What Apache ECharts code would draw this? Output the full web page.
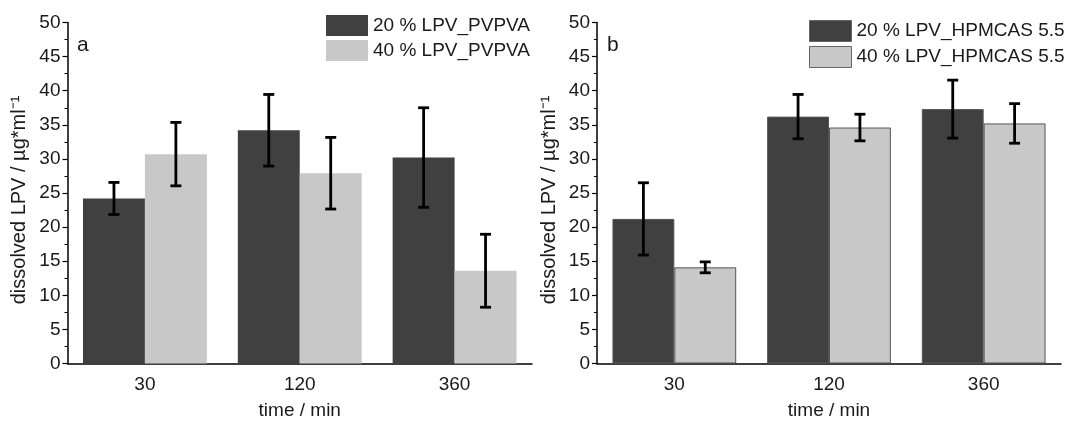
<!DOCTYPE html>
<html>
<head>
<meta charset="utf-8">
<script src="https://cdn.jsdelivr.net/npm/echarts@6/dist/echarts.min.js"></script>
<style>
  html, body { margin: 0; padding: 0; background: #fff; }
  #chart { width: 1069px; height: 423px; }
</style>
</head>
<body>
<div id="chart"></div>
<script>
// data (mean and +/- error)
const categories = ['30', '120', '360'];
const yTicks = [0, 50, 5];

const namesA = ['20 % LPV_PVPVA', '40 % LPV_PVPVA'];
const a20 = [24.2, 34.2, 30.2];
const a20Err = [2.35, 5.25, 7.3];
const a40 = [30.7, 27.9, 13.6];
const a40Err = [4.65, 5.25, 5.35];

const namesB = ['20 % LPV_HPMCAS 5.5', '40 % LPV_HPMCAS 5.5'];
const b20 = [21.2, 36.2, 37.3];
const b20Err = [5.3, 3.25, 4.25];
const b40 = [14.1, 34.6, 35.2];
const b40Err = [0.8, 1.95, 2.9];

const DARK = '#404040';
const LIGHT = '#c8c8c8';
const FONT = 'Liberation Sans, Arial, sans-serif';
const TXT = '#1a1a1a';

var chart = echarts.init(document.getElementById('chart'));

function yAxis(gridIndex) {
  return {
    type: 'value',
    gridIndex: gridIndex,
    min: yTicks[0],
    max: yTicks[1],
    interval: yTicks[2],
    name: 'dissolved LPV / µg*ml⁻¹',
    nameLocation: 'middle',
    nameGap: 38,
    nameTextStyle: { fontSize: 20, color: TXT, fontFamily: FONT, padding: [0, 14, 0, 0] },
    axisLine: { show: true, lineStyle: { color: '#000', width: 1.5 } },
    axisTick: { show: true, length: 5, lineStyle: { color: '#000', width: 1.2 } },
    minorTick: { show: true, splitNumber: 2, length: 3, lineStyle: { color: '#000', width: 1 } },
    splitLine: { show: false },
    axisLabel: { fontSize: 19, color: TXT, fontFamily: FONT, margin: 7 }
  };
}

function xAxes(gridIndex) {
  return [
    {
      type: 'category',
      gridIndex: gridIndex,
      data: categories,
      name: 'time / min',
      nameLocation: 'middle',
      nameGap: 38,
      nameTextStyle: { fontSize: 19, color: TXT, fontFamily: FONT },
      axisLine: { lineStyle: { color: '#000', width: 1.5 } },
      axisTick: { alignWithLabel: true, length: 6, lineStyle: { color: '#000', width: 1.2 } },
      axisLabel: { fontSize: 19, color: TXT, fontFamily: FONT, margin: 12 }
    },
    {
      // boundary (minor) ticks between categories
      type: 'category',
      gridIndex: gridIndex,
      data: categories,
      axisLine: { show: false },
      axisTick: { alignWithLabel: false, length: 4, lineStyle: { color: '#000', width: 1 } },
      axisLabel: { show: false }
    }
  ];
}

function bars(name, data, color, xIdx, yIdx, border) {
  return {
    name: name,
    type: 'bar',
    xAxisIndex: xIdx,
    yAxisIndex: yIdx,
    data: data,
    barGap: 0,
    barCategoryGap: '20%',
    itemStyle: border
      ? { color: color, borderColor: '#555', borderWidth: 1 }
      : { color: color },
    z: 2
  };
}

function errorBars(means, errs, side, xIdx, yIdx) {
  return {
    type: 'custom',
    xAxisIndex: xIdx,
    yAxisIndex: yIdx,
    data: means.map((m, i) => [i, m, errs[i]]),
    z: 10,
    silent: true,
    renderItem: function (params, api) {
      var i = api.value(0);
      var m = api.value(1);
      var e = api.value(2);
      var bw = api.size([1, 0])[0] * 0.4;
      var hi = api.coord([i, m + e]);
      var lo = api.coord([i, m - e]);
      var x = hi[0] + side * bw / 2;
      var cap = 5.5;
      var st = { stroke: '#000', lineWidth: 2.8 };
      return {
        type: 'group',
        children: [
          { type: 'line', shape: { x1: x, y1: hi[1], x2: x, y2: lo[1] }, style: st },
          { type: 'line', shape: { x1: x - cap, y1: hi[1], x2: x + cap, y2: hi[1] }, style: st },
          { type: 'line', shape: { x1: x - cap, y1: lo[1], x2: x + cap, y2: lo[1] }, style: st }
        ]
      };
    }
  };
}

function legend(names, left, top, border) {
  return {
    data: names,
    orient: 'vertical',
    left: left,
    top: top,
    padding: 0,
    itemWidth: 42,
    itemHeight: 21,
    itemGap: 4,
    itemStyle: border ? { borderColor: '#666', borderWidth: 1 } : { borderWidth: 0 },
    icon: 'rect',
    textStyle: { fontSize: 19, color: TXT, fontFamily: FONT }
  };
}

chart.setOption({
  animation: false,
  backgroundColor: '#fff',
  grid: [
    { left: 67.5, top: 22.5, width: 464.5, height: 341, outerBoundsMode: 'none' },
    { left: 597, top: 22.5, width: 464, height: 341, outerBoundsMode: 'none' }
  ],
  xAxis: xAxes(0).concat(xAxes(1)),
  yAxis: [yAxis(0), yAxis(1)],
  legend: [
    legend(namesA, 326, 15, false),
    legend(namesB, 809, 20, true)
  ],
  graphic: [
    { type: 'text', left: 77, top: 35, style: { text: 'a', font: '21px ' + FONT, fill: TXT } },
    { type: 'text', left: 607, top: 35, style: { text: 'b', font: '21px ' + FONT, fill: TXT } }
  ],
  series: [
    bars(namesA[0], a20, DARK, 0, 0, false),
    bars(namesA[1], a40, LIGHT, 0, 0, false),
    errorBars(a20, a20Err, -1, 0, 0),
    errorBars(a40, a40Err, 1, 0, 0),
    bars(namesB[0], b20, DARK, 2, 1, true),
    bars(namesB[1], b40, LIGHT, 2, 1, true),
    errorBars(b20, b20Err, -1, 2, 1),
    errorBars(b40, b40Err, 1, 2, 1)
  ]
});
</script>
</body>
</html>
